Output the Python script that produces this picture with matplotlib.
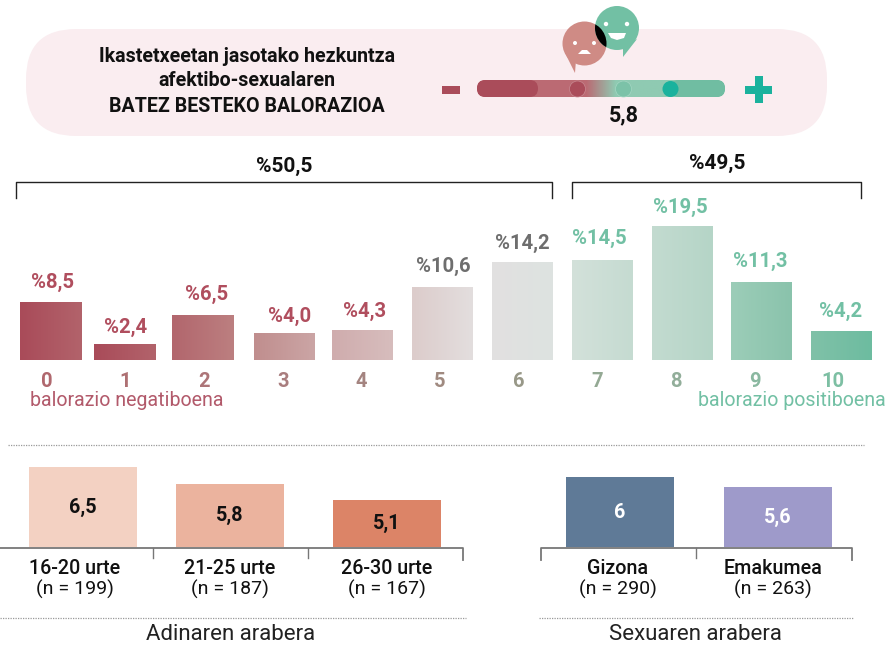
import numpy as np
import matplotlib
matplotlib.use("Agg")
import matplotlib.pyplot as plt
from matplotlib.colors import LinearSegmentedColormap
from matplotlib.patches import Circle, FancyBboxPatch, Polygon, Rectangle

plt.rcParams['font.family'] = ['Roboto', 'DejaVu Sans']

# balorazioak
scores = ['0', '1', '2', '3', '4', '5', '6', '7', '8', '9', '10']
shares = [8.5, 2.4, 6.5, 4.0, 4.3, 10.6, 14.2, 14.5, 19.5, 11.3, 4.2]
share_labels = ['%8,5', '%2,4', '%6,5', '%4,0', '%4,3', '%10,6', '%14,2', '%14,5', '%19,5', '%11,3', '%4,2']
neg_total = '%50,5'
pos_total = '%49,5'
mean_label = '5,8'

age_groups = ['16-20 urte', '21-25 urte', '26-30 urte']
age_n = ['(n = 199)', '(n = 187)', '(n = 167)']
age_values = [6.5, 5.8, 5.1]
age_labels = ['6,5', '5,8', '5,1']

sex_groups = ['Gizona', 'Emakumea']
sex_n = ['(n = 290)', '(n = 263)']
sex_values = [6.0, 5.6]
sex_labels = ['6', '5,6']

W, H = 888, 645
RED = '#AA4C5A'
GREEN = '#72C0A4'
TEAL = '#1AB29D'

# estiloak / kokapenak (pixeletan)
bar_centers = [50, 124.5, 202.5, 284.5, 362.5, 442.5, 522.5, 602, 682, 761.5, 841.5]
label_dx = [3, 1.5, 4.5, 5.5, 2.5, 0.5, -0.5, -3, -2, -1.5, -0.5]
label_dy = [0, 3, -1, 3, 0, -1, 0, -2, 1, -1, 0]
tick_pos = 47 + 78.6 * np.arange(11)
grad_left = ['#A94B59', '#A94B59', '#B2666D', '#C08E8E', '#CFACAD', '#DCCCCB', '#E2E0E0', '#D3E1DA', '#C3DBD0', '#9CCDB8', '#80C1A8']
grad_right = ['#B2636B', '#B2636B', '#BC7F80', '#CBA5A5', '#D7BDBD', '#E3DEDE', '#DDE3E1', '#C5DBD1', '#B5D5C7', '#8AC3AC', '#6DBCA0']
label_colors = ['#B04E5E'] * 5 + ['#6E6E6E'] * 2 + [GREEN] * 4
tick_colors = ['#B0686E', '#AE7073', '#AD7578', '#A97D7E', '#A48480', '#A08A80', '#989888', '#94A994', '#92AE9A', '#8AB8A0', '#7DBFA3']


def px_axes(fig, left, top, right, bottom):
    ax = fig.add_axes([left / W, 1 - bottom / H, (right - left) / W, (bottom - top) / H])
    ax.patch.set_alpha(0)
    return ax


def gradient(ax, patch, c1, c2):
    cmap = LinearSegmentedColormap.from_list('g', [c1, c2])
    x0, y0 = patch.get_xy()
    im = ax.imshow(np.linspace(0, 1, 64).reshape(1, -1), cmap=cmap, aspect='auto',
                   extent=[x0, x0 + patch.get_width(), y0, y0 + patch.get_height()], zorder=2)
    im.set_clip_path(patch)


fig = plt.figure(figsize=(W / 100, H / 100), dpi=100)

# fondoa eta apaingarriak
deco = px_axes(fig, 0, 0, W, H)
deco.set_xlim(0, W)
deco.set_ylim(H, 0)
deco.axis('off')

deco.add_patch(FancyBboxPatch((26 + 50, 29 + 50), 801 - 100, 107 - 100,
                              boxstyle='round,pad=50,rounding_size=50', fc='#FAEDF0', ec='none'))
deco.text(247, 56, 'Ikastetxeetan jasotako hezkuntza', ha='center', va='center', fontsize=14.1, fontweight='bold', color='#111111')
deco.text(247, 81, 'afektibo-sexualaren', ha='center', va='center', fontsize=14.1, fontweight='bold', color='#111111')
deco.text(247, 106, 'BATEZ BESTEKO BALORAZIOA', ha='center', va='center', fontsize=14.1, fontweight='bold', color='#111111')

# eskala
deco.add_patch(Rectangle((442, 86), 18, 8, fc=RED, ec='none'))
deco.add_patch(Rectangle((754.5, 76), 8, 27, fc=TEAL, ec='none'))
deco.add_patch(Rectangle((745, 86), 27, 8, fc=TEAL, ec='none'))
track = FancyBboxPatch((485, 88), 232, 1, boxstyle='round,pad=8,rounding_size=8.5', fc='none', ec='none')
deco.add_patch(track)
for x0, x1, c1, c2 in [(477, 586, '#BB6A73', '#BB6A73'), (586, 616, '#BB6A73', '#8FCAB2'),
                       (616, 690, '#8FCAB2', '#8FCAB2'), (690, 725, '#70BDA2', '#70BDA2')]:
    seg = Rectangle((x0, 80), x1 - x0, 17, fc='none', ec='none')
    deco.add_patch(seg)
    im = deco.imshow(np.linspace(0, 1, 32).reshape(1, -1), aspect='auto', extent=[x0, x1, 97, 80],
                     cmap=LinearSegmentedColormap.from_list('s', [c1, c2]), zorder=2)
    im.set_clip_path(track)
deco.add_patch(FancyBboxPatch((485, 88), 45, 1, boxstyle='round,pad=8,rounding_size=8.5', fc=RED, ec='none', zorder=3))
deco.add_patch(FancyBboxPatch((678, 88), 39, 1, boxstyle='round,pad=8,rounding_size=8.5', fc='#70BDA2', ec='none', zorder=3))
deco.add_patch(Circle((577.5, 89), 8, fc=RED, ec='#C98A92', lw=0.5, zorder=4))
deco.add_patch(Circle((623.5, 89), 8, fc='#7CC2A8', ec='#A5D6C3', lw=0.5, zorder=4))
deco.add_patch(Circle((670.5, 89), 8, fc=TEAL, ec='none', zorder=4))
deco.text(624, 115, mean_label, ha='center', va='center', fontsize=15.5, fontweight='bold', color='#111111')

# aurpegiak
sad = Circle((584.5, 43.5), 22, fc='#CF8B85', ec='none', zorder=5)
happy = Circle((617, 28), 22, fc=GREEN, ec='none', zorder=6)
deco.add_patch(sad)
deco.add_patch(happy)
deco.add_patch(Polygon([[566, 55], [575, 73], [576, 60]], fc='#CF8B85', ec='none', zorder=5))
deco.add_patch(Polygon([[623, 45], [623, 57], [637, 39]], fc=GREEN, ec='none', zorder=6))
lens = Circle((584.5, 43.5), 22, fc='black', ec='none', zorder=7)
deco.add_patch(lens)
lens.set_clip_path(Circle((617, 28), 22, transform=deco.transData))
for x, y in [(575, 43), (594, 43)]:
    deco.add_patch(Circle((x, y), 2, fc='white', ec='none', zorder=8))
for x, y in [(606, 24), (627, 24)]:
    deco.add_patch(Circle((x, y), 2.2, fc='white', ec='none', zorder=8))
deco.add_patch(Polygon([[578, 54], [582, 50], [587, 50], [591, 54]], fc='white', ec='none', zorder=8))
deco.add_patch(Polygon([[608, 33], [626, 33], [624, 38], [617, 40], [611, 38]], fc='white', ec='none', zorder=8))

# giltzak
deco.plot([16, 16, 552, 552], [198, 182, 182, 198], color='#222222', lw=1)
deco.plot([572, 572, 861, 861], [198, 182, 182, 198], color='#222222', lw=1)
deco.text(284, 166, neg_total, ha='center', va='center', fontsize=15, fontweight='bold', color='#111111')
deco.text(717, 163, pos_total, ha='center', va='center', fontsize=15, fontweight='bold', color='#111111')

# lerro etenak
for x0, x1, y in [(8, 864, 445), (0, 466, 618), (539, 853, 618)]:
    deco.plot([x0, x1], [y, y], color='#999999', lw=0.9, ls=(0, (1, 1)))

# balorazio grafikoa
ax = px_axes(fig, 0, 200, W, 360)
bars = ax.bar(bar_centers, shares, width=61, color='none', zorder=1)
for i, b in enumerate(bars):
    gradient(ax, b, grad_left[i], grad_right[i])
    ax.annotate(share_labels[i], (bar_centers[i], shares[i]), xytext=(label_dx[i] * 0.72, 14 - label_dy[i] * 0.72),
                textcoords='offset points', ha='center', va='center', fontsize=14.6,
                fontweight='bold', color=label_colors[i], annotation_clip=False)
ax.set_xlim(0, W)
ax.set_ylim(0, 160 / 6.87)
ax.set_yticks([])
ax.set_xticks(tick_pos)
ax.set_xticklabels(scores, fontsize=14.5, fontweight='bold')
for t, c in zip(ax.get_xticklabels(), tick_colors):
    t.set_color(c)
ax.tick_params(axis='x', length=0, pad=8.5)
for s in ax.spines.values():
    s.set_visible(False)
deco.text(127, 401, 'balorazio negatiboena', ha='center', va='center', fontsize=14.1, color='#B25A6B')
deco.text(886, 401, 'balorazio positiboena', ha='right', va='center', fontsize=14.1, color=GREEN)

# adina
ax2 = px_axes(fig, 0, 450, W, 547)
age_x = [83, 230, 387]
age_bars = ax2.bar(age_x, age_values, width=108, color=['#F3D1C2', '#EBB39E', '#DC8467'])
for x, v, l in zip(age_x, age_values, age_labels):
    ax2.text(x, (v + 3.1) / 2, l, ha='center', va='center', fontsize=14.2, fontweight='bold', color='#111111')
ax2.set_xlim(0, W)
ax2.set_ylim(3.1, 3.1 + 97 / 23.5)
ax2.axis('off')

# sexua
ax3 = px_axes(fig, 0, 450, W, 547)
sex_x = [620, 778]
ax3.bar(sex_x, sex_values, width=108, color=['#5F7A97', '#9E9ACA'])
for x, v, l in zip(sex_x, sex_values, sex_labels):
    ax3.text(x, (v + 3.2) / 2, l, ha='center', va='center', fontsize=14.2, fontweight='bold', color='white')
ax3.set_xlim(0, W)
ax3.set_ylim(3.2, 3.2 + 97 / 25)
ax3.axis('off')

# ardatzak eta etiketak
deco.plot([0, 463, 463], [548, 548, 560], color='#777777', lw=1.3)
for x in [153, 308]:
    deco.plot([x, x], [548, 558], color='#777777', lw=1)
deco.plot([541, 541, 852, 852], [560, 548, 548, 560], color='#777777', lw=1.3)
deco.plot([696, 696], [548, 558], color='#777777', lw=1)
for x, g, n in zip([75, 230, 387], age_groups, age_n):
    deco.text(x, 568.5, g, ha='center', va='center', fontsize=14.2, fontweight='medium', color='#111111')
    deco.text(x, 589, n, ha='center', va='center', fontsize=14, color='#111111')
for x, g, n in zip([618, 773], sex_groups, sex_n):
    deco.text(x, 568.5, g, ha='center', va='center', fontsize=14.2, fontweight='medium', color='#111111')
    deco.text(x, 589, n, ha='center', va='center', fontsize=14, color='#111111')
deco.text(231, 635, 'Adinaren arabera', ha='center', va='center', fontsize=16, color='#222222')
deco.text(695, 635, 'Sexuaren arabera', ha='center', va='center', fontsize=16, color='#222222')

fig.savefig('out.png', dpi=100)
